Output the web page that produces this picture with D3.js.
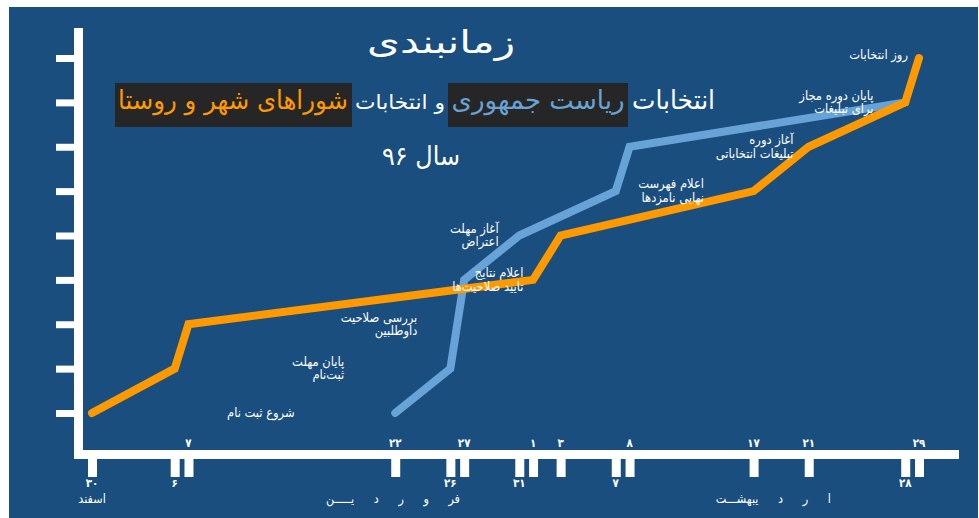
<!DOCTYPE html>
<html><head><meta charset="utf-8">
<script src="https://cdn.jsdelivr.net/npm/d3@7"></script>
<style>
html,body{margin:0;padding:0;background:#fff;}
svg{display:block;}
text{font-family:"DejaVu Sans Condensed","DejaVu Sans",sans-serif;}
</style></head><body>
<svg id="chart" width="979" height="518"></svg>
<script>
// ---- data ----
// days counted from 30 Esfand 1395 (day 0)
const tickDays   = [0, 6, 7, 22, 26, 27, 31, 32, 34, 38, 39, 48, 52, 59, 60];
const tickLabels = ['۳۰','۶','۷','۲۲','۲۶','۲۷','۳۱','۱','۳','۷','۸','۱۷','۲۱','۲۸','۲۹'];
const tickLabelSide = ['below','below','above','above','below','above','below','above','above','below','above','above','above','below','above'];
const stepLevels = [0, 1, 2, 3, 4, 5, 6, 7, 8];

const councilDays   = [0, 6, 7, 32, 34, 48, 52, 59, 60];
const councilLevels = [0, 1, 2, 3, 4, 5, 6, 7, 8];
const presDays      = [22, 26, 27, 31, 38, 39, 59];
const presLevels    = [0, 1, 3, 4, 5, 6, 7];

const monthNames = ['اسفند', 'فر و ر د یـــــن', 'ا ر د یبهشـــت'];
const monthAnchorDays = [1.0, 26.7, 53.6];
const monthWordSpacing = [0, 16, 16];

const eventLabels = [
  ['شروع ثبت نام'],
  ['پایان مهلت', 'ثبت‌نام'],
  ['بررسی صلاحیت', 'داوطلبین'],
  ['اعلام نتایج', 'تایید صلاحیت‌ها'],
  ['آغاز مهلت', 'اعتراض'],
  ['اعلام فهرست', 'نهایی نامزدها'],
  ['آغاز دوره', 'تبلیغات انتخاباتی'],
  ['پایان دوره مجاز', 'برای تبلیغات'],
  ['روز انتخابات']
];
const eventAnchorDays   = [14.7, 18.3, 23.6, 31.3, 29.5, 44.4, 50.9, 56.7, 59.2];
const eventAnchorLevels = [0, 1, 2, 3, 4, 5, 6, 7, 8.07];

const titleText = 'زمانبندی';
const subtitleParts = ['انتخابات', 'ریاست جمهوری', 'و انتخابات', 'شوراهای شهر و روستا'];
const yearText = 'سال ۹۶';

// ---- styles ----
const BG = '#1a4e7e', ORANGE = '#ff9900', BLUE = '#68a3d7', BOX = '#262626';

const svg = d3.select('#chart');
svg.append('rect').attr('x', 9).attr('y', 7).attr('width', 969).attr('height', 511).attr('fill', BG);

const x = d3.scaleLinear().domain([0, 60]).range([92, 919]);
const y = d3.scaleLinear().domain([0, 8]).range([413, 58]);

// axes bars
svg.append('line').attr('x1', 78.5).attr('x2', 78.5).attr('y1', 28).attr('y2', 459)
  .attr('stroke', '#fff').attr('stroke-width', 9);
svg.append('line').attr('x1', 74).attr('x2', 959).attr('y1', 454.5).attr('y2', 454.5)
  .attr('stroke', '#fff').attr('stroke-width', 9);

const yAxis = svg.append('g').attr('transform', 'translate(74,0)')
  .call(d3.axisLeft(y).tickValues(stepLevels).tickSize(18).tickFormat(''));
yAxis.select('.domain').remove();
yAxis.selectAll('.tick line').attr('stroke', '#fff').attr('stroke-width', 7);

const xAxis = svg.append('g').attr('transform', 'translate(0,459)')
  .call(d3.axisBottom(x).tickValues(tickDays).tickSize(18).tickFormat(''));
xAxis.select('.domain').remove();
xAxis.selectAll('.tick line').attr('stroke', '#fff').attr('stroke-width', 9);

// tick labels
svg.append('g').selectAll('text').data(tickDays).join('text')
  .attr('x', d => x(d))
  .attr('y', (d, i) => tickLabelSide[i] === 'above' ? 447 : 487)
  .attr('text-anchor', 'middle')
  .attr('fill', '#fff').attr('font-size', 11.5).attr('font-weight', 'bold')
  .text((d, i) => tickLabels[i]);

// month labels
svg.append('g').selectAll('text').data(monthNames).join('text')
  .attr('x', (d, i) => x(monthAnchorDays[i]))
  .attr('y', 503)
  .attr('text-anchor', 'end')
  .attr('fill', '#fff').attr('font-size', 12.5)
  .attr('word-spacing', (d, i) => monthWordSpacing[i])
  .text(d => d);

// lines
const line = d3.line().x(d => x(d[0])).y(d => y(d[1]));
const presData = presDays.map((d, i) => [d, presLevels[i]]);
const councilData = councilDays.map((d, i) => [d, councilLevels[i]]);
svg.append('path').datum(presData).attr('d', line)
  .attr('fill', 'none').attr('stroke', BLUE).attr('stroke-width', 8)
  .attr('stroke-linecap', 'round').attr('stroke-linejoin', 'miter');
svg.append('path').datum(councilData).attr('d', line)
  .attr('fill', 'none').attr('stroke', ORANGE).attr('stroke-width', 8)
  .attr('stroke-linecap', 'round').attr('stroke-linejoin', 'miter');

// event annotations
const ev = svg.append('g');
eventLabels.forEach((lines, i) => {
  const cx = x(eventAnchorDays[i]);
  const cy = y(eventAnchorLevels[i]);
  const t = ev.append('text').attr('fill', '#fff').attr('font-size', 12.8).attr('text-anchor', 'end');
  const n = lines.length;
  lines.forEach((s, j) => {
    t.append('tspan').attr('x', cx).attr('y', cy + 4 + (j - (n - 1) / 2) * 13.5).text(s);
  });
});

// title
svg.append('text').attr('x', 441).attr('y', 53).attr('text-anchor', 'middle')
  .attr('fill', '#fff').attr('font-size', 32).attr('textLength', 148).attr('lengthAdjust', 'spacingAndGlyphs')
  .text(titleText);

// subtitle boxes
svg.append('rect').attr('x', 115).attr('y', 83).attr('width', 237).attr('height', 44).attr('fill', BOX);
svg.append('rect').attr('x', 448).attr('y', 83).attr('width', 180).attr('height', 44).attr('fill', BOX);
const sub = [
  {t: subtitleParts[0], cx: 673.5, w: 83, fs: 26, c: '#fff'},
  {t: subtitleParts[1], cx: 538, w: 173, fs: 26, c: BLUE},
  {t: subtitleParts[2], cx: 400, w: 90, fs: 20, c: '#fff'},
  {t: subtitleParts[3], cx: 233, w: 230, fs: 26, c: ORANGE}
];
sub.forEach(s => {
  svg.append('text').attr('x', s.cx).attr('y', 109).attr('text-anchor', 'middle')
    .attr('fill', s.c).attr('font-size', s.fs).attr('textLength', s.w).attr('lengthAdjust', 'spacingAndGlyphs')
    .text(s.t);
});
svg.append('text').attr('x', 421).attr('y', 165).attr('text-anchor', 'middle')
  .attr('fill', '#fff').attr('font-size', 26).attr('textLength', 78).attr('lengthAdjust', 'spacingAndGlyphs')
  .text(yearText);
</script>
</body></html>
